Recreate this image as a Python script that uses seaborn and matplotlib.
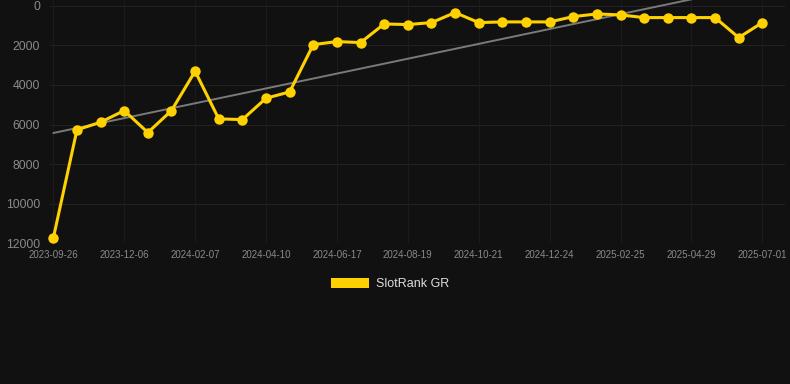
import numpy as np
import pandas as pd
import matplotlib
matplotlib.use("Agg")
import matplotlib.pyplot as plt
import seaborn as sns
from matplotlib.patches import Patch

# Data (rank values, lower = better)
dates = [
    "2023-09-26", "2023-10-20", "2023-11-13",
    "2023-12-06", "2023-12-27", "2024-01-17",
    "2024-02-07", "2024-02-28", "2024-03-20",
    "2024-04-10", "2024-05-03", "2024-05-26",
    "2024-06-17", "2024-07-08", "2024-07-29",
    "2024-08-19", "2024-09-09", "2024-09-30",
    "2024-10-21", "2024-11-11", "2024-12-03",
    "2024-12-24", "2025-01-14", "2025-02-04",
    "2025-02-25", "2025-03-18", "2025-04-08",
    "2025-04-29", "2025-05-20", "2025-06-10",
    "2025-07-01",
]

rank = [
    11750, 6270, 5885,
    5295, 6408, 5295,
    3305, 5717, 5750,
    4671, 4351, 1956,
    1804, 1855, 911,
    944, 843, 337,
    843, 809, 809,
    809, 540, 405,
    455, 590, 590,
    590, 590, 1602,
    843,
]

series_label = "SlotRank GR"
y_ticks = [0, 2000, 4000, 6000, 8000, 10000, 12000]

df = pd.DataFrame({"date": dates, "rank": rank})
df["idx"] = np.arange(len(df))

# Linear trend over the series
coef = np.polyfit(df["idx"], df["rank"], 1)
df["trend"] = np.polyval(coef, df["idx"])

# =========================
# Style
# =========================

bg = "#111111"
gold = "#FFD100"

sns.set_theme(style="dark")
plt.rcParams["font.family"] = ["Liberation Sans", "DejaVu Sans"]

fig = plt.figure(figsize=(7.9, 3.84), dpi=100, facecolor=bg)
ax = fig.add_axes([0.063, 0.367, 0.931, 0.633])
ax.set_facecolor(bg)

# Grid
for y in y_ticks:
    ax.axhline(y, color="#222222", linewidth=0.8, zorder=0)
for i in df["idx"][::3]:
    ax.axvline(i, color="#1b1b1b", linewidth=0.8, zorder=0)

# Trend line
sns.lineplot(
    data=df,
    x="idx",
    y="trend",
    color="#7a7a7a",
    linewidth=1.4,
    ax=ax,
    zorder=2,
)

# Rank line
sns.lineplot(
    data=df,
    x="idx",
    y="rank",
    color=gold,
    linewidth=2.2,
    marker="o",
    markersize=7.5,
    markeredgewidth=0,
    ax=ax,
    zorder=3,
    clip_on=False,
)

ax.set_xlim(-0.15, 30.97)
ax.set_ylim(12000, -300)

ax.set_yticks(y_ticks)
ax.set_yticklabels([str(v) for v in y_ticks])

ax.set_xticks(df["idx"][::3])
ax.set_xticklabels(df["date"][::3])

ax.tick_params(axis="y", colors="#8a8a8a", labelsize=8.8, length=0, pad=7)
ax.tick_params(axis="x", colors="#8a8a8a", labelsize=7, length=0, pad=5)

ax.set_xlabel("")
ax.set_ylabel("")

for s in ax.spines.values():
    s.set_visible(False)

# Legend
handle = Patch(facecolor=gold, edgecolor="none", label=series_label)
fig.legend(
    handles=[handle],
    loc="center",
    bbox_to_anchor=(0.494, 0.26),
    frameon=False,
    fontsize=9,
    labelcolor="#dddddd",
    handlelength=3.0,
    handleheight=0.9,
    handletextpad=0.6,
)

plt.savefig("out.png", dpi=100, facecolor=bg)

plt.close()
